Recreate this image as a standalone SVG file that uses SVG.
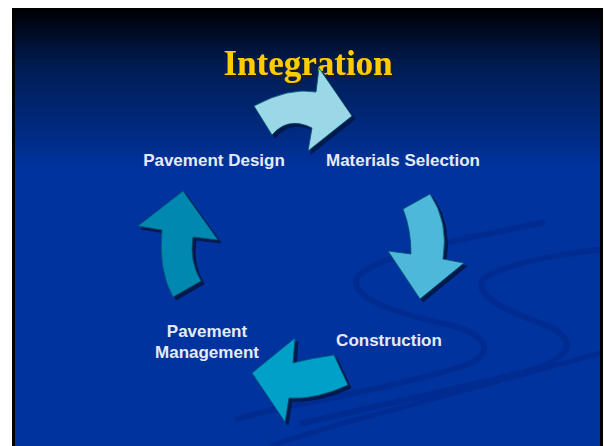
<svg xmlns="http://www.w3.org/2000/svg" xmlns:xlink="http://www.w3.org/1999/xlink" width="604" height="446" viewBox="0 0 604 446">
<defs>
<linearGradient id="bg" gradientUnits="userSpaceOnUse" x1="0" y1="10" x2="0" y2="170">
<stop offset="0" stop-color="#000006"/>
<stop offset="0.35" stop-color="#001C52"/>
<stop offset="1" stop-color="#00339E"/>
</linearGradient>
<clipPath id="slide"><rect x="15" y="11" width="585" height="435"/></clipPath>
<filter id="ts" x="-10%" y="-20%" width="130%" height="150%">
<feDropShadow dx="2" dy="2" stdDeviation="0.4" flood-color="#1A1A1A" flood-opacity="1"/>
</filter>
<path id="a1" d="M254,106 Q289,87 316,92 L319,68 L352,116 L308,151 L312,128 Q288,116 272,135 Z"/>
<path id="a2" d="M403,209 L430,194 Q449,222 443,259 L464,263 L420,299 L388,251 L411,254 Q411,229 403,209 Z"/>
<path id="a3" d="M183,191 L218,240 L193,237 Q189,261 201,281 L173,297 Q158,270 162,230 L138,226 Z"/>
<path id="a4" d="M252,373 L295,338 L293,363 Q312,358 334,355 L348,385 Q315,400 289,398 L285,422 Z"/>
</defs>
<style>
.lbl{font-family:"Liberation Sans",Arial,sans-serif;font-weight:bold;font-size:17px;fill:#E6EAF6}
.title{font-family:"Liberation Serif","Times New Roman",serif;font-weight:bold;font-size:35px;fill:#FFCC00}
.sw{fill:none;stroke:#002C8E;stroke-linecap:butt;opacity:0.85}
.shadow{fill:#001A4E;stroke:#001A4E;stroke-width:1}
.arr{stroke:#00506E;stroke-width:0.8;stroke-linejoin:miter}
</style>
<rect x="0" y="0" width="604" height="446" fill="#FFFFFF"/>
<rect x="13.5" y="9.5" width="588" height="440" fill="url(#bg)" stroke="#000000" stroke-width="3"/>
<g id="swooshes" clip-path="url(#slide)">
<path class="sw" stroke-width="6" d="M545,222 C470,238 385,252 358,276 C345,298 400,314 450,325 C492,336 494,356 463,366 C420,380 360,392 300,404 C270,410 250,415 235,420"/>
<path class="sw" stroke-width="6" d="M604,249 C560,254 500,264 482,280 C474,300 520,315 550,327 C580,342 570,360 520,373 C460,388 380,405 300,424"/>
<path class="sw" stroke-width="5" d="M604,352 C540,370 430,400 340,424 L270,446"/>
</g>
<g id="title">
<text class="title" x="308" y="75" text-anchor="middle" filter="url(#ts)">Integration</text>
</g>
<g id="connectors">
<g id="arrow-design-materials">
<use xlink:href="#a1" class="shadow" transform="translate(3,3)"/>
<use xlink:href="#a1" class="arr" fill="#9AD8E8"/>
</g>
<g id="arrow-materials-construction">
<use xlink:href="#a2" class="shadow" transform="translate(3,3)"/>
<use xlink:href="#a2" class="arr" fill="#4DB8DA"/>
</g>
<g id="arrow-construction-management">
<use xlink:href="#a4" class="shadow" transform="translate(3,3)"/>
<use xlink:href="#a4" class="arr" fill="#00A0C8"/>
</g>
<g id="arrow-management-design">
<use xlink:href="#a3" class="shadow" transform="translate(3,3)"/>
<use xlink:href="#a3" class="arr" fill="#0088B0"/>
</g>
</g>
<g id="node-pavement-design">
<text class="lbl" x="214" y="166" text-anchor="middle">Pavement Design</text>
</g>
<g id="node-materials-selection">
<text class="lbl" x="403" y="166" text-anchor="middle">Materials Selection</text>
</g>
<g id="node-construction">
<text class="lbl" x="389" y="346" text-anchor="middle">Construction</text>
</g>
<g id="node-pavement-management">
<text class="lbl" x="207" y="337" text-anchor="middle">Pavement</text>
<text class="lbl" x="207" y="358" text-anchor="middle">Management</text>
</g>
</svg>
